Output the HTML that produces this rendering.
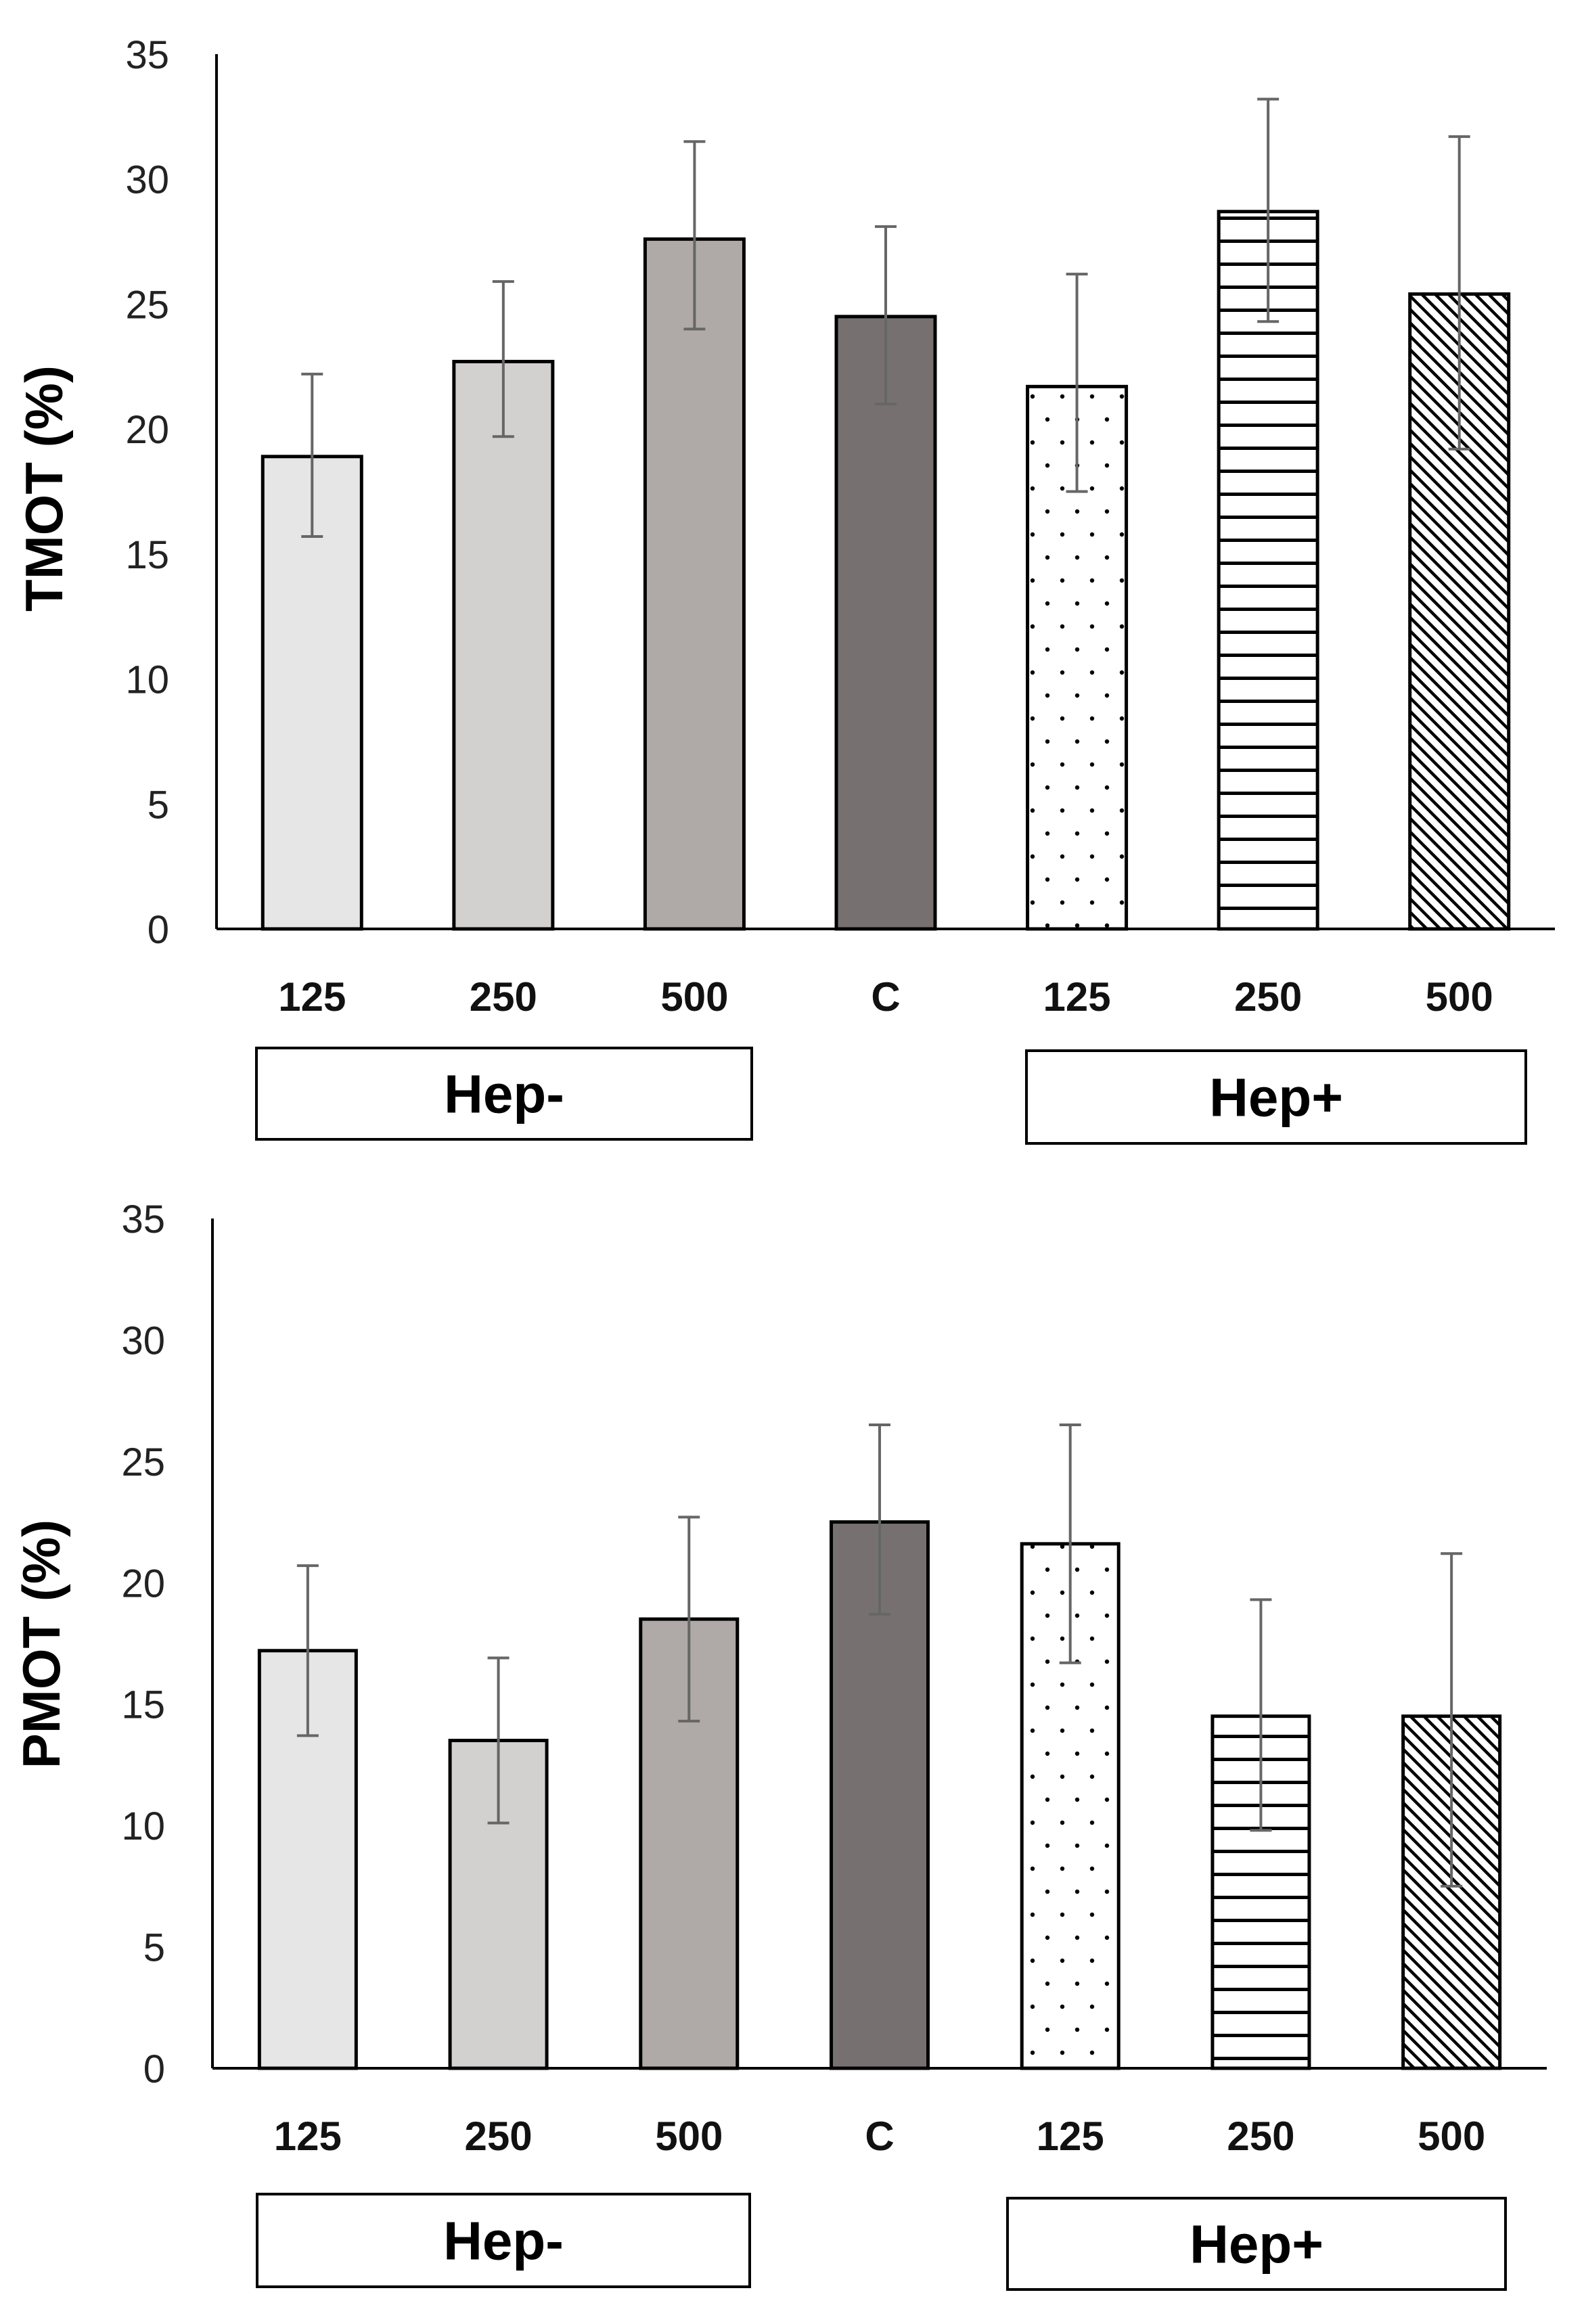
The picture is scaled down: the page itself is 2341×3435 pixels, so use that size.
<!DOCTYPE html>
<html><head><meta charset="utf-8"><style>
html,body{margin:0;padding:0;background:#fff;}
svg{display:block;font-family:"Liberation Sans",sans-serif;}
</style></head><body>
<svg id="fig" width="2341" height="3435" viewBox="0 0 2341 3435" xmlns="http://www.w3.org/2000/svg">
<defs>
<pattern id="dots" patternUnits="userSpaceOnUse" width="44" height="68" x="0" y="0">
<circle cx="8" cy="8" r="3.2" fill="#000"/><circle cx="30" cy="42" r="3.2" fill="#000"/>
</pattern>
<pattern id="hlines" patternUnits="userSpaceOnUse" width="40" height="34">
<rect x="0" y="0" width="40" height="34" fill="#fff"/><rect x="0" y="14" width="40" height="5" fill="#000"/>
</pattern>
<pattern id="diag" patternUnits="userSpaceOnUse" width="14" height="14" patternTransform="rotate(-45)">
<rect x="0" y="0" width="14" height="14" fill="#fff"/><rect x="0" y="0" width="4.5" height="14" fill="#000"/>
</pattern>
</defs>
</svg>
<script>
const categories = ["125","250","500","C","125","250","500"];
const tmotValues = [18.9,22.7,27.6,24.5,21.7,28.7,25.4];
const tmotErrHi = [22.2,25.9,31.5,28.1,26.2,33.2,31.7];
const tmotErrLo = [15.7,19.7,24.0,21.0,17.5,24.3,19.2];
const pmotValues = [17.2,13.5,18.5,22.5,21.6,14.5,14.5];
const pmotErrHi = [20.7,16.9,22.7,26.5,26.5,19.3,21.2];
const pmotErrLo = [13.7,10.1,14.3,18.7,16.7,9.8,7.5];
const yTicks = [0,5,10,15,20,25,30,35];
const fills = ["#e6e6e6","#d3d0d0","#afaaa7","#767170","url(#dots)","url(#hlines)","url(#diag)"];
const NS="http://www.w3.org/2000/svg";
const svg=document.getElementById('fig');
function mk(tag,attrs,parent){const e=document.createElementNS(NS,tag);for(const k in attrs)e.setAttribute(k,attrs[k]);(parent||svg).appendChild(e);return e;}
function drawChart(cfg){
  const g=mk('g',{});
  
  
  const y=v=>cfg.y0-(v/35)*(cfg.y0-cfg.yTop);
  const step=(cfg.xEnd-cfg.x0)/categories.length;
  const xc=i=>cfg.x0+step*(i+0.5);
  yTicks.forEach(t=>{
    const tx=mk('text',{x:cfg.x0-70,y:y(t)+21,'text-anchor':'end','font-size':58,fill:'#222'},g);
    tx.textContent=t;
    
    
  });
  const yt=mk('text',{x:0,y:0,transform:`translate(${cfg.titleX},${cfg.titleY}) rotate(-90)`,'text-anchor':'middle','font-size':78,'font-weight':'bold',fill:'#000'},g);
  yt.textContent=cfg.title;
  
  
  categories.forEach((c,i)=>{
    const bw=cfg.bw, v=cfg.vals[i];
    const r=mk('rect',{x:xc(i)-bw/2,y:y(v),width:bw,height:y(0)-y(v),fill:fills[i],stroke:'#000','stroke-width':5},g);
    
    
    const e=mk('g',{stroke:'#666','stroke-width':4},g);
    
    
    mk('line',{x1:xc(i),x2:xc(i),y1:y(cfg.hi[i]),y2:y(cfg.lo[i])},e);
    mk('line',{x1:xc(i)-16,x2:xc(i)+16,y1:y(cfg.hi[i]),y2:y(cfg.hi[i])},e);
    mk('line',{x1:xc(i)-16,x2:xc(i)+16,y1:y(cfg.lo[i]),y2:y(cfg.lo[i])},e);
    const l=mk('text',{x:xc(i),y:cfg.labY,'text-anchor':'middle','font-size':60,'font-weight':'bold',fill:'#111'},g);
    l.textContent=c;
    
    
  });
  const ya=mk('line',{x1:cfg.x0,x2:cfg.x0,y1:cfg.yTop,y2:cfg.y0,stroke:'#000','stroke-width':4},g);
  
  
  const xa=mk('line',{x1:cfg.x0,x2:cfg.xEnd,y1:cfg.y0,y2:cfg.y0,stroke:'#000','stroke-width':4},g);
  
  
  cfg.boxes.forEach(b=>{
    const bg=mk('g',{},g);
    
    
    mk('rect',{x:b.x,y:b.y,width:b.w,height:b.h,fill:'#fff',stroke:'#000','stroke-width':4},bg);
    const t=mk('text',{x:b.x+b.w/2,y:b.y+b.h/2+28,'text-anchor':'middle','font-size':80,'font-weight':'bold',fill:'#000'},bg);
    t.textContent=b.label;
  });
}
drawChart({name:'tmot-chart',title:'TMOT (%)',x0:320,xEnd:2298,y0:1373,yTop:80,bw:146,labY:1494,titleX:92,titleY:722,
  vals:tmotValues,hi:tmotErrHi,lo:tmotErrLo,
  boxes:[{name:'hep-minus-group',label:'Hep-',x:379,y:1549,w:732,h:135},{name:'hep-plus-group',label:'Hep+',x:1517,y:1553,w:738,h:137}]});
drawChart({name:'pmot-chart',title:'PMOT (%)',x0:314,xEnd:2286,y0:3057,yTop:1801,bw:143,labY:3178,titleX:88,titleY:2430,
  vals:pmotValues,hi:pmotErrHi,lo:pmotErrLo,
  boxes:[{name:'hep-minus-group',label:'Hep-',x:380,y:3243,w:728,h:137},{name:'hep-plus-group',label:'Hep+',x:1489,y:3249,w:736,h:135}]});
</script>
</body></html>
